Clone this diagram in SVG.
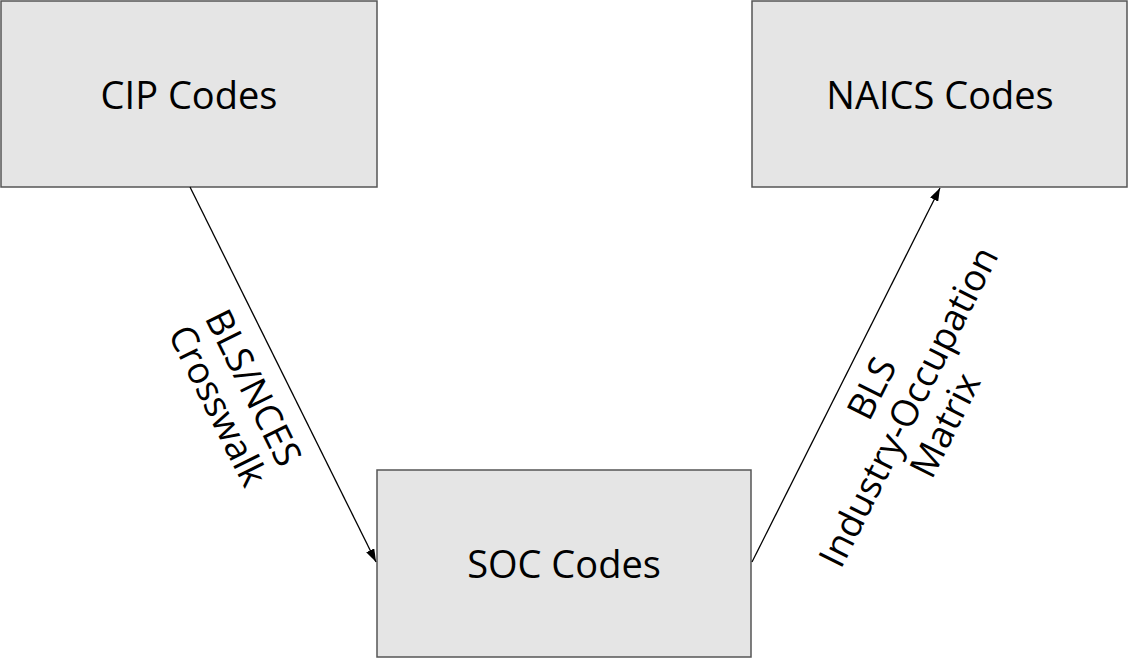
<svg xmlns="http://www.w3.org/2000/svg" width="1128" height="658" viewBox="0 0 1128 658">
<defs>
<style>
.box{fill:#e5e5e5;stroke:#555;stroke-width:1.5}
.t{font-family:"Open Sans","Liberation Sans",sans-serif;font-size:37px;fill:#000;text-anchor:middle;dominant-baseline:central}
.n{font-size:38px}
.edge{stroke:#000;stroke-width:1.3;fill:none}
</style>
<marker id="ah" viewBox="0 0 13 9" refX="13" refY="4.5" markerWidth="13" markerHeight="9" markerUnits="userSpaceOnUse" orient="auto">
<path d="M0,0 L13,4.5 L0,9 Z" fill="#000"/>
</marker>
</defs>
<rect width="1128" height="658" fill="#fff"/>
<g id="cip">
<rect class="box" x="1" y="1" width="376" height="186"/>
<text class="t n" x="189" y="94">CIP Codes</text>
</g>
<g id="naics">
<rect class="box" x="752" y="1" width="375" height="186"/>
<text class="t n" x="940" y="94">NAICS Codes</text>
</g>
<g id="soc">
<rect class="box" x="377" y="470" width="374" height="187"/>
<text class="t n" x="564" y="563">SOC Codes</text>
</g>
<g id="connectors">
<line class="edge" x1="190" y1="187" x2="376" y2="562" marker-end="url(#ah)"/>
<line class="edge" x1="752" y1="562" x2="940" y2="188" marker-end="url(#ah)"/>
<g transform="translate(237,396) rotate(63.6)">
<text class="t" x="0" y="-20">BLS/NCES</text>
<text class="t" x="0" y="20">Crosswalk</text>
</g>
<g transform="translate(907,406) rotate(-63.3)">
<text class="t" x="0" y="-41">BLS</text>
<text class="t" x="0" y="0">Industry-Occupation</text>
<text class="t" x="0" y="41">Matrix</text>
</g>
</g>
</svg>
